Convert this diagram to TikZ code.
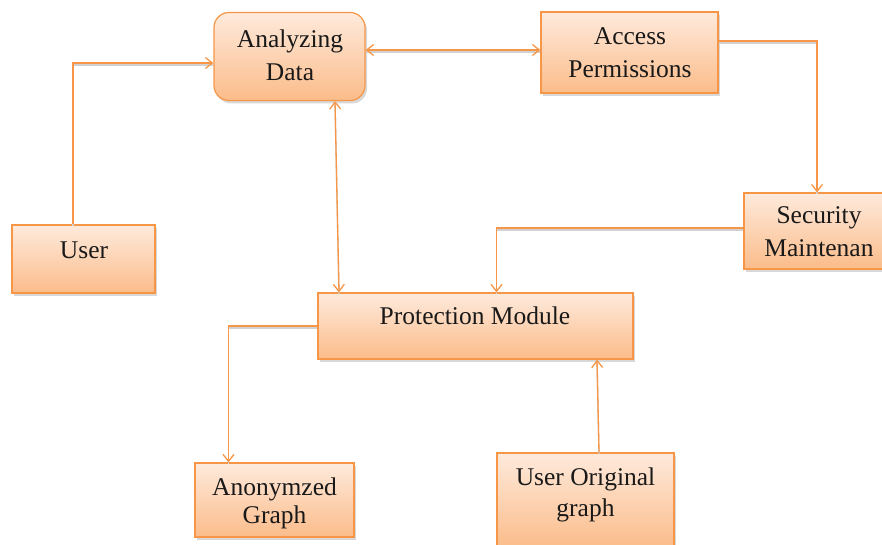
\documentclass[tikz,border=0pt]{standalone}
\usepackage{fontspec}
\setmainfont{Liberation Serif}
\usetikzlibrary{arrows.meta,shadows}
\definecolor{orangeline}{RGB}{247,150,70}
\definecolor{boxtop}{RGB}{254,234,220}
\definecolor{boxbot}{RGB}{251,188,138}
\begin{document}
\begin{tikzpicture}[x=1pt,y=-1pt,
  box/.style={draw=orangeline, line width=1.2pt, top color=boxtop, bottom color=boxbot,
    drop shadow={shadow xshift=2pt, shadow yshift=-3pt, fill=black!30},
    inner sep=0pt},
  txt/.style={font=\fontsize{25.5}{33}\selectfont, align=center, inner sep=0pt, text=black!90},
  conn/.style={draw=orangeline, line width=1.3pt,
    preaction={draw=black!18, line width=1.4pt, -, transform canvas={shift={(0pt,-2pt)}}}},
  >={Straight Barb[length=7pt,width=11pt]}]
\useasboundingbox (0,0) rectangle (882,545);
% boxes
\node[box, rounded corners=15pt, minimum width=151pt, minimum height=88pt] (ana) at (289.5,56.5) {};
\node[box, minimum width=177pt, minimum height=81pt] (acc) at (629.5,52.5) {};
\node[box, minimum width=143pt, minimum height=68pt] (user) at (83.5,259) {};
\node[box, minimum width=151pt, minimum height=76pt] (sec) at (819.5,231) {};
\node[box, minimum width=315pt, minimum height=66pt] (prot) at (475.5,326) {};
\node[box, minimum width=159pt, minimum height=74pt] (anon) at (274.5,500) {};
\node[box, minimum width=177pt, minimum height=95pt] (orig) at (585.5,500.5) {};
% texts
\node[txt] (anat) at (290,54.8) {Analyzing\\Data};
\node[txt] (acct) at (630,52.5) {Access\\Permissions};
\node[txt, anchor=base] (usert) at (84,258) {User};
\node[txt] (sect) at (819,231.8) {Security\\Maintenan};
\node[txt, anchor=base] (prott) at (475,324.5) {Protection Module};
\node[txt, font=\fontsize{25.5}{28}\selectfont] (anont) at (274.5,503) {Anonymzed\\Graph};
\node[txt, font=\fontsize{25.5}{31}\selectfont] (origt) at (585.5,494.5) {User Original\\graph};
% connectors
\draw[conn,->] ([xshift=-10.5pt]user.north) |- ([yshift=-6.5pt]ana.west);
\draw[conn,<->] ([yshift=6.5pt]ana.east) -- ([yshift=2.5pt]acc.west);
\draw[conn,->] ([yshift=11.5pt]acc.east) -| ([xshift=-2.5pt]sec.north);
\draw[conn,->] ([yshift=3pt]sec.west) -| ([xshift=21pt]prot.north);
\draw[conn,<->] ([xshift=45.5pt]ana.south) -- ([xshift=-136.5pt]prot.north);
\draw[conn,->] (prot.west) -| ([xshift=-46pt]anon.north);
\draw[conn,->] ([xshift=13.5pt]orig.north) -- ([xshift=121.5pt]prot.south);
\end{tikzpicture}
\end{document}
